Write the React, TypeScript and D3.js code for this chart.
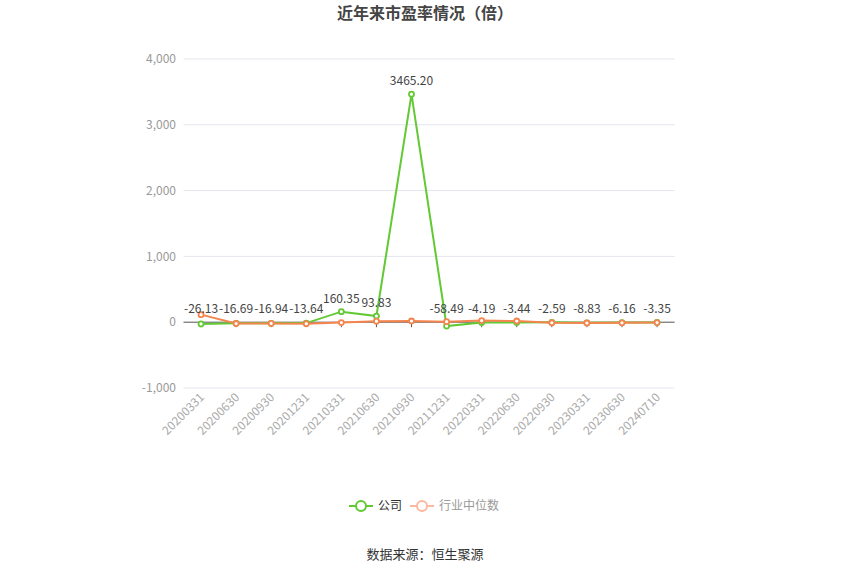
import React from 'react';
import * as d3 from 'd3';

const categories = ['20200331', '20200630', '20200930', '20201231', '20210331', '20210630', '20210930', '20211231', '20220331', '20220630', '20220930', '20230331', '20230630', '20240710'];
const companyValues = [-26.13, -16.69, -16.94, -13.64, 160.35, 93.83, 3465.2, -58.49, -4.19, -3.44, -2.59, -8.83, -6.16, -3.35];
const industryValues = [115, -20, -18, -22, -5, 15, 18, 8, 25, 18, -8, -12, -10, -6];
const yTicks = [-1000, 0, 1000, 2000, 3000, 4000];

const W = 850;
const H = 575;
const FONT = '"Noto Sans CJK SC", "Noto Sans", sans-serif';
const GREEN = '#62c934';
const ORANGE = '#f5854f';

const fmt = (t: number) => d3.format(',')(t).replace('\u2212', '-');

export default function App() {
  const x = d3.scaleBand<string>().domain(categories).range([183.5, 674.6]);
  const y = d3.scaleLinear().domain([-1000, 4000]).range([388, 59]);
  const px = (c: string) => (x(c) || 0) + x.bandwidth() / 2;

  const line = d3.line<number>()
    .x((_, i) => px(categories[i]))
    .y(d => y(d));

  return (
    <svg width={W} height={H} style={{ display: 'block', position: 'absolute', left: 0, top: 0 }} fontFamily={FONT}>
      <rect width={W} height={H} fill="#fff" />
      <text x={W / 2} y={19} textAnchor="middle" fontSize={16} fontWeight="bold" fill="#444">近年来市盈率情况（倍）</text>

      {/* grid + y labels */}
      {yTicks.map(t => (
        <g key={t}>
          {t !== 0 && <line x1={183.5} x2={674.6} y1={y(t)} y2={y(t)} stroke="#e3e6ee" strokeWidth={1} />}
          <text x={176} y={y(t)} dy="0.35em" textAnchor="end" fontSize={12} fill="#999">{fmt(t)}</text>
        </g>
      ))}
      <line x1={183.5} x2={674.6} y1={y(0)} y2={y(0)} stroke="#555" strokeWidth={1} />
      {categories.map(c => (
        <line key={c} x1={px(c)} x2={px(c)} y1={y(0)} y2={y(0) + 5} stroke="#555" strokeWidth={1} />
      ))}

      {/* x labels */}
      {categories.map(c => (
        <text key={c} transform={`translate(${px(c) + 4},${398}) rotate(-45)`} textAnchor="end" fontSize={12} fill="#aaa">{c}</text>
      ))}

      {/* company series */}
      <path d={line(companyValues) || ''} fill="none" stroke={GREEN} strokeWidth={2} />
      {companyValues.map((v, i) => (
        <circle key={i} cx={px(categories[i])} cy={y(v)} r={2.5} fill="#fff" stroke={GREEN} strokeWidth={1.8} />
      ))}

      {/* industry series */}
      <path d={line(industryValues) || ''} fill="none" stroke={ORANGE} strokeWidth={2} />
      {industryValues.map((v, i) => (
        <circle key={i} cx={px(categories[i])} cy={y(v)} r={2.5} fill="#fff" stroke={ORANGE} strokeWidth={1.8} />
      ))}

      {/* value labels */}
      {companyValues.map((v, i) => (
        <text key={i} x={px(categories[i])} y={y(Math.max(v, 0)) - 9} textAnchor="middle" fontSize={12} fill="#444">{v.toFixed(2)}</text>
      ))}

      {/* legend */}
      <g transform="translate(0,506)">
        <line x1={349} x2={373} y1={0} y2={0} stroke={GREEN} strokeWidth={2} />
        <circle cx={361} cy={0} r={5} fill="#fff" stroke={GREEN} strokeWidth={2} />
        <text x={378} y={0} dy="0.35em" fontSize={12} fill="#333">公司</text>
        <line x1={410} x2={434} y1={0} y2={0} stroke="#fbb9a0" strokeWidth={2} />
        <circle cx={422} cy={0} r={5} fill="#fff" stroke="#fbb9a0" strokeWidth={2} />
        <text x={439} y={0} dy="0.35em" fontSize={12} fill="#999">行业中位数</text>
      </g>

      <text x={W / 2} y={559} textAnchor="middle" fontSize={13} fill="#333">数据来源：恒生聚源</text>
    </svg>
  );
}
